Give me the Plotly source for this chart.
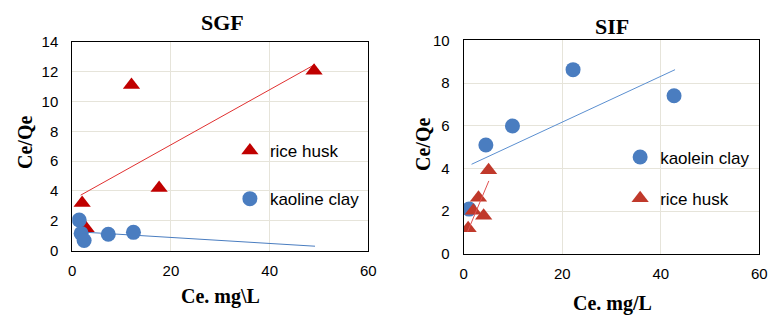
import plotly.graph_objects as go

# ---- SGF (left) data ----
sgf_rice_x = [2.0, 12.0, 17.6, 49.0, 2.8]
sgf_rice_y = [3.2, 11.1, 4.2, 12.05, 1.5]
sgf_clay_x = [1.4, 1.8, 2.4, 7.3, 12.4]
sgf_clay_y = [2.06, 1.16, 0.68, 1.1, 1.23]
sgf_rice_trend_x = [1.7, 49.2]
sgf_rice_trend_y = [3.72, 12.48]
sgf_clay_trend_x = [2.0, 49.2]
sgf_clay_trend_y = [1.25, 0.3]

# ---- SIF (right) data ----
sif_clay_x = [1.1, 4.5, 9.9, 22.2, 42.7]
sif_clay_y = [2.1, 5.1, 5.99, 8.63, 7.41]
sif_rice_x = [0.9, 1.95, 3.0, 4.05, 5.05]
sif_rice_y = [1.2, 2.02, 2.63, 1.79, 3.92]
sif_clay_trend_x = [1.6, 42.9]
sif_clay_trend_y = [4.2, 8.63]
sif_rice_trend_x = [0.8, 5.1]
sif_rice_trend_y = [1.05, 3.42]

x_ticks = [0, 20, 40, 60]
sgf_y_ticks = [0, 2, 4, 6, 8, 10, 12, 14]
sif_y_ticks = [0, 2, 4, 6, 8, 10]

BLUE = "#4a7dc0"
RED = "#c00000"
RED2 = "#c0392b"
TICKFONT = dict(family="Liberation Sans, Arial", size=15, color="#000")
LEGFONT = dict(family="Liberation Sans, Arial", size=17, color="#000")
SERIF = "Liberation Serif, Times New Roman"

fig = go.Figure()

# left subplot
fig.add_trace(go.Scatter(x=sgf_rice_trend_x, y=sgf_rice_trend_y, mode="lines",
                         line=dict(color="#e03030", width=1), showlegend=False,
                         xaxis="x", yaxis="y"))
fig.add_trace(go.Scatter(x=sgf_clay_trend_x, y=sgf_clay_trend_y, mode="lines",
                         line=dict(color="#4a7dc0", width=1), showlegend=False,
                         xaxis="x", yaxis="y"))
fig.add_trace(go.Scatter(x=sgf_rice_x, y=sgf_rice_y, mode="markers", name="rice husk",
                         marker=dict(symbol="triangle-up", size=15, color=RED),
                         xaxis="x", yaxis="y", legend="legend", legendgroup="a"))
fig.add_trace(go.Scatter(x=sgf_clay_x, y=sgf_clay_y, mode="markers", name="kaoline clay",
                         marker=dict(symbol="circle", size=15, color=BLUE),
                         xaxis="x", yaxis="y", legend="legend", legendgroup="b"))

# right subplot
fig.add_trace(go.Scatter(x=sif_clay_trend_x, y=sif_clay_trend_y, mode="lines",
                         line=dict(color="#5b8fd0", width=1), showlegend=False,
                         xaxis="x2", yaxis="y2"))
fig.add_trace(go.Scatter(x=sif_clay_x, y=sif_clay_y, mode="markers", name="kaolein clay",
                         marker=dict(symbol="circle", size=15, color=BLUE),
                         xaxis="x2", yaxis="y2", legend="legend2", legendgroup="c"))
fig.add_trace(go.Scatter(x=sif_rice_x, y=sif_rice_y, mode="markers", name="rice husk",
                         marker=dict(symbol="triangle-up", size=15, color=RED2),
                         xaxis="x2", yaxis="y2", legend="legend2", legendgroup="d"))
fig.add_trace(go.Scatter(x=sif_rice_trend_x, y=sif_rice_trend_y, mode="lines",
                         line=dict(color="#e05050", width=1), showlegend=False,
                         xaxis="x2", yaxis="y2"))

axis_common = dict(showline=True, linecolor="#000", linewidth=1, mirror=True,
                   showgrid=True, gridcolor="#e6e4da", gridwidth=1, zeroline=False,
                   ticks="", tickfont=TICKFONT, automargin=False)
xax = dict(axis_common, ticklabelstandoff=6)
yax = dict(axis_common, ticklabelstandoff=10)


def ann(text, xpx, ypx, size, angle=0):
    return dict(text=text, x=xpx / 783, y=1 - ypx / 326, xref="paper", yref="paper",
                xanchor="center", yanchor="middle", showarrow=False, textangle=angle,
                font=dict(family=SERIF, size=size, color="#000"))


fig.update_layout(
    template="none",
    width=783, height=326,
    margin=dict(l=0, r=0, t=0, b=0, pad=0),
    paper_bgcolor="white", plot_bgcolor="white",
    xaxis=dict(domain=[0.0923, 0.4704], range=[0, 60], tickvals=x_ticks, anchor="y", **xax),
    yaxis=dict(domain=[0.231, 0.872], range=[0, 14], tickvals=sgf_y_ticks, anchor="x", **yax),
    xaxis2=dict(domain=[0.5922, 0.9697], range=[0, 60], tickvals=x_ticks, anchor="y2", **xax),
    yaxis2=dict(domain=[0.221, 0.876], range=[0, 10], tickvals=sif_y_ticks, anchor="x2", **yax),
    legend=dict(x=0.2936, y=1 - 133 / 326, xanchor="left", yanchor="top", bgcolor="rgba(0,0,0,0)",
                font=LEGFONT, tracegroupgap=23, itemwidth=30, borderwidth=0),
    legend2=dict(x=0.792, y=1 - 139.5 / 326, xanchor="left", yanchor="top", bgcolor="rgba(0,0,0,0)",
                 font=LEGFONT, tracegroupgap=16, itemwidth=30, borderwidth=0),
    annotations=[
        ann("<b>SGF</b>", 222, 22, 22),
        ann("<b>SIF</b>", 612, 27, 22),
        ann("<b>Ce/Qe</b>", 25, 143, 20, -90),
        ann("<b>Ce/Qe</b>", 423, 145, 20, -90),
        ann("<b>Ce. mg\\L</b>", 220, 296, 20),
        ann("<b>Ce. mg/L</b>", 612, 303, 20),
    ],
)

fig.write_html("out.html")
